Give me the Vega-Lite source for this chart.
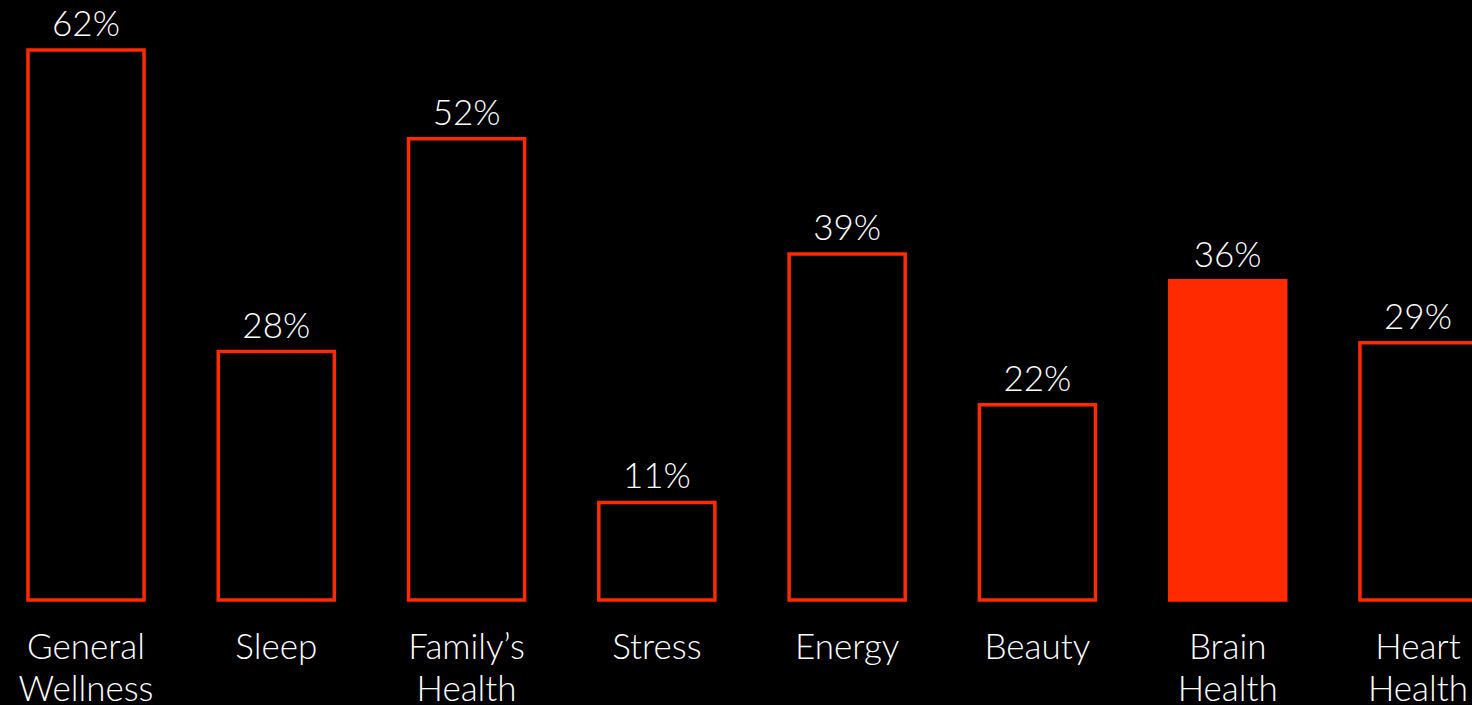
{
  "$schema": "https://vega.github.io/schema/vega-lite/v6.json",
  "background": "#000000",
  "autosize": {"type": "none"},
  "padding": {"left": 0, "top": 50, "right": 0, "bottom": 105},
  "width": 1504,
  "height": 550,
  "data": {
    "values": [
      {"category": "General Wellness", "share": 0.62},
      {"category": "Sleep", "share": 0.28},
      {"category": "Family’s Health", "share": 0.52},
      {"category": "Stress", "share": 0.11},
      {"category": "Energy", "share": 0.39},
      {"category": "Beauty", "share": 0.22},
      {"category": "Brain Health", "share": 0.36},
      {"category": "Heart Health", "share": 0.29}
    ]
  },
  "config": {
    "view": {"stroke": null},
    "font": "Lato"
  },
  "encoding": {
    "x": {
      "field": "category",
      "type": "nominal",
      "sort": null,
      "scale": {"paddingInner": 0.39, "paddingOuter": 0.147},
      "axis": {
        "title": null,
        "domain": false,
        "ticks": false,
        "grid": false,
        "labelAngle": 0,
        "labelExpr": "split(datum.value, ' ')",
        "labelFont": "Lato",
        "labelFontSize": 35,
        "labelFontWeight": 300,
        "labelColor": "#ffffff",
        "labelBaseline": "alphabetic",
        "labelPadding": 58,
        "labelLineHeight": 42,
        "labelAlign": "center",
        "labelOverlap": false,
        "labelLimit": 0
      }
    },
    "y": {
      "field": "share",
      "type": "quantitative",
      "scale": {"domain": [0, 0.62], "nice": false, "zero": true},
      "axis": null
    }
  },
  "layer": [
    {
      "mark": {"type": "bar", "stroke": "#ff2a00", "strokeWidth": 3.5, "cornerRadius": 0},
      "encoding": {
        "fill": {
          "condition": {"test": "datum.category === 'Brain Health'", "value": "#ff2a00"},
          "value": "#000000"
        }
      }
    },
    {
      "mark": {"type": "text", "baseline": "alphabetic", "align": "center", "dy": -14, "fontSize": 35, "fontWeight": 300, "font": "Lato", "color": "#ffffff"},
      "encoding": {
        "text": {"field": "share", "type": "quantitative", "format": ".0%"}
      }
    }
  ]
}
